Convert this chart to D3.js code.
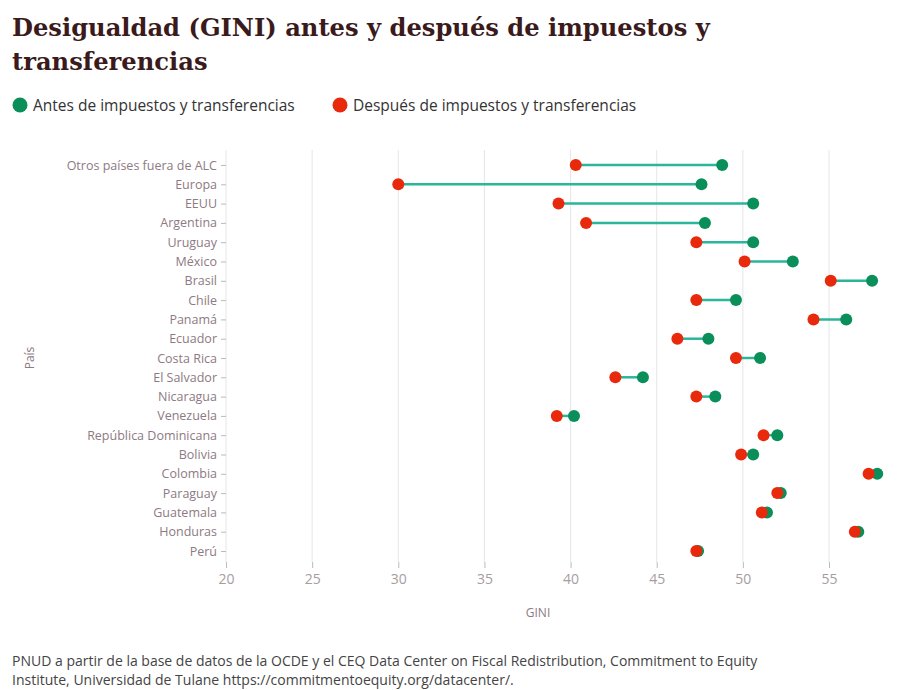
<!DOCTYPE html><html><head><meta charset="utf-8"><script src="https://cdn.jsdelivr.net/npm/d3@7"></script>
<style>body{margin:0;background:#fff}</style></head><body><svg id="c" width="898" height="690"></svg>
<script>
const countries=["Otros países fuera de ALC","Europa","EEUU","Argentina","Uruguay","México","Brasil","Chile","Panamá","Ecuador","Costa Rica","El Salvador","Nicaragua","Venezuela","República Dominicana","Bolivia","Colombia","Paraguay","Guatemala","Honduras","Perú"];
const antes=[48.8,47.6,50.6,47.8,50.6,52.9,57.5,49.6,56.0,48.0,51.0,44.2,48.4,40.2,52.0,50.6,57.8,52.2,51.4,56.7,47.4];
const despues=[40.3,30.0,39.3,40.9,47.3,50.1,55.1,47.3,54.1,46.2,49.6,42.6,47.3,39.2,51.2,49.9,57.3,52.0,51.1,56.5,47.3];
const ticks=[20,25,30,35,40,45,50,55];
const svg=d3.select("#c");
const green="#0a8f5a",red="#e8290b",teal="#2bb59a",lab="#8d7a82",ff="Open Sans";
svg.append("text").attr("x",12).attr("y",36).attr("font-family","DejaVu Serif").attr("font-weight","bold").attr("font-size",24.2).attr("fill","#3b1a1c").text("Desigualdad (GINI) antes y después de impuestos y");
svg.append("text").attr("x",12).attr("y",70).attr("font-family","DejaVu Serif").attr("font-weight","bold").attr("font-size",24.2).attr("fill","#3b1a1c").text("transferencias");
const lg=[["Antes de impuestos y transferencias",green,20],["Después de impuestos y transferencias",red,340]];
lg.forEach(([t,c,x])=>{svg.append("circle").attr("cx",x).attr("cy",105).attr("r",7.5).attr("fill",c);
svg.append("text").attr("x",x+13).attr("y",111).attr("font-family",ff).attr("font-size",15.5).attr("fill","#333").text(t);});
const x=d3.scaleLinear().domain([20,55]).range([226,829]);
const y=d3.scalePoint().domain(countries).range([165,551]);
svg.append("g").selectAll("line").data(ticks).join("line").attr("x1",d=>x(d)).attr("x2",d=>x(d)).attr("y1",150).attr("y2",562).attr("stroke","#e6e6e6");
const ya=svg.append("g").attr("transform","translate(226,0)").call(d3.axisLeft(y).tickSize(5).tickPadding(4));
ya.select(".domain").remove();ya.selectAll("line").attr("stroke","#bbb");
ya.selectAll("text").attr("font-family",ff).attr("font-size",12.5).attr("fill",lab);
const xa=svg.append("g").attr("transform","translate(0,562)").call(d3.axisBottom(x).tickValues(ticks).tickSize(6).tickPadding(6));
xa.select(".domain").remove();xa.selectAll("line").attr("stroke","#bbb");
xa.selectAll("text").attr("font-family",ff).attr("font-size",14).attr("fill","#a89ca0");
svg.append("text").attr("x",538).attr("y",617).attr("text-anchor","middle").attr("font-family",ff).attr("font-size",12).attr("fill",lab).text("GINI");
svg.append("text").attr("transform","translate(34,358) rotate(-90)").attr("text-anchor","middle").attr("font-family",ff).attr("font-size",12).attr("fill",lab).text("País");
const rows=countries.map((c,i)=>({c,a:antes[i],d:despues[i]}));
svg.append("g").selectAll("line").data(rows).join("line").attr("x1",d=>x(d.d)).attr("x2",d=>x(d.a)).attr("y1",d=>y(d.c)).attr("y2",d=>y(d.c)).attr("stroke",teal).attr("stroke-width",2.5);
svg.append("g").selectAll("circle").data(rows).join("circle").attr("cx",d=>x(d.a)).attr("cy",d=>y(d.c)).attr("r",6).attr("fill",green);
svg.append("g").selectAll("circle").data(rows).join("circle").attr("cx",d=>x(d.d)).attr("cy",d=>y(d.c)).attr("r",6).attr("fill",red);
const f=["PNUD a partir de la base de datos de la OCDE y el CEQ Data Center on Fiscal Redistribution, Commitment to Equity","Institute, Universidad de Tulane https://commitmentoequity.org/datacenter/."];
f.forEach((t,i)=>svg.append("text").attr("x",12).attr("y",666+i*19).attr("font-family",ff).attr("font-size",14).attr("fill","#444").text(t));
</script></body></html>
